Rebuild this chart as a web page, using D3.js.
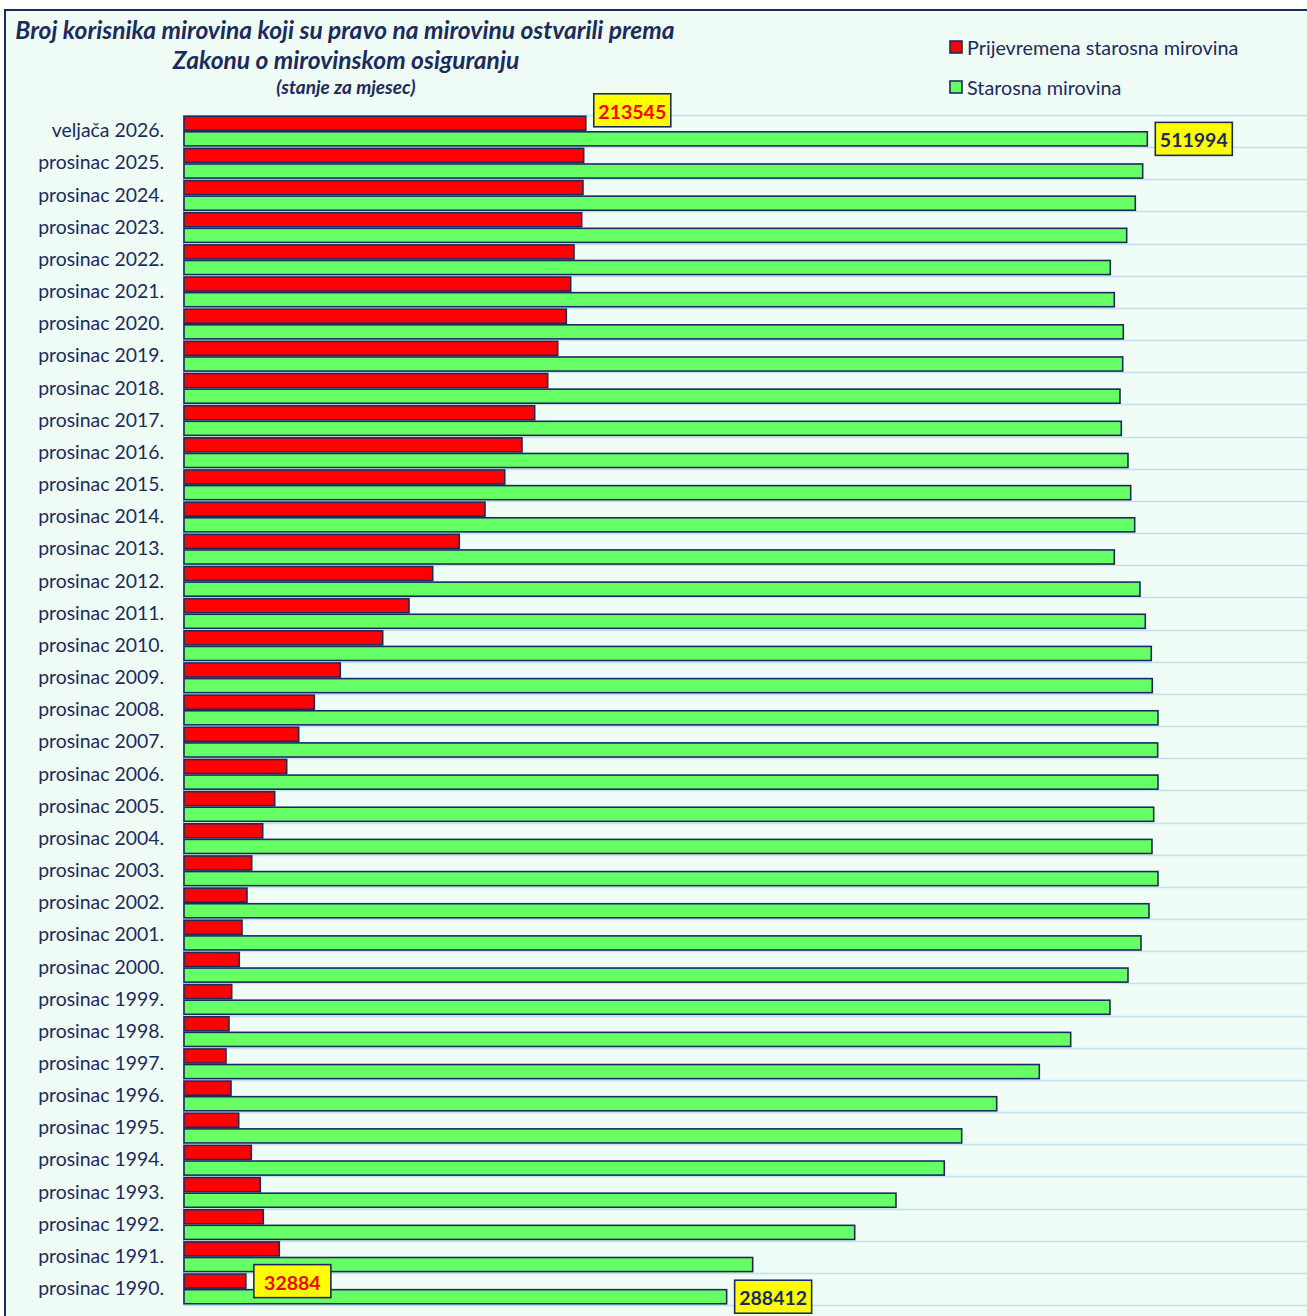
<!DOCTYPE html>
<html>
<head>
<meta charset="utf-8">
<script src="https://cdn.jsdelivr.net/npm/d3@7"></script>
<style>
  html, body { margin: 0; padding: 0; background: #ffffff; }
  svg { display: block; }
</style>
</head>
<body>
<svg id="chart" width="1307" height="1316"></svg>
<script>
// Period labels, top to bottom
const categories = [
  "veljača 2026.", "prosinac 2025.", "prosinac 2024.", "prosinac 2023.", "prosinac 2022.",
  "prosinac 2021.", "prosinac 2020.", "prosinac 2019.", "prosinac 2018.", "prosinac 2017.",
  "prosinac 2016.", "prosinac 2015.", "prosinac 2014.", "prosinac 2013.", "prosinac 2012.",
  "prosinac 2011.", "prosinac 2010.", "prosinac 2009.", "prosinac 2008.", "prosinac 2007.",
  "prosinac 2006.", "prosinac 2005.", "prosinac 2004.", "prosinac 2003.", "prosinac 2002.",
  "prosinac 2001.", "prosinac 2000.", "prosinac 1999.", "prosinac 1998.", "prosinac 1997.",
  "prosinac 1996.", "prosinac 1995.", "prosinac 1994.", "prosinac 1993.", "prosinac 1992.",
  "prosinac 1991.", "prosinac 1990."
];

// Prijevremena starosna mirovina (early old-age pension)
const earlyPension = [
  213545, 212430, 212060, 211370, 207280,
  205530, 203190, 198620, 193300, 186390,
  179640, 170450, 159980, 146320, 132180,
  119590, 105610, 83070, 69250, 60960,
  54580, 48210, 41830, 35980, 33480,
  30830, 29390, 25350, 23920, 22320,
  24980, 29070, 35770, 40550, 42150,
  50650, 32884
];

// Starosna mirovina (old-age pension)
const oldAgePension = [
  511994, 509540, 505610, 501040, 492320,
  494450, 499230, 498910, 497480, 498170,
  501730, 503160, 505290, 494450, 508110,
  510920, 514110, 514640, 517670, 517510,
  517670, 515390, 514480, 517670, 512890,
  508640, 501730, 492160, 471270, 454590,
  431940, 413340, 404090, 378420, 356470,
  302260, 288412
];

const seriesNames = ["Prijevremena starosna mirovina", "Starosna mirovina"];
const xDomainMax = 600000;

// Values shown in callout boxes: [category, series index]
const calloutPoints = [
  ["veljača 2026.", 0],
  ["veljača 2026.", 1],
  ["prosinac 1990.", 0],
  ["prosinac 1990.", 1]
];

const titleLines = [
  "Broj korisnika mirovina koji su pravo na mirovinu ostvarili prema",
  "Zakonu o mirovinskom osiguranju"
];
const subtitle = "(stanje za mjesec)";

// ---- styling ----
const NAVY = "#1c2b5e";
const FILLS = ["#ff0000", "#66ff66"];
const GRID = "#c4e2ec";
const BG = "#effdf6";
const FONT = "Lato, 'Open Sans', sans-serif";

const svg = d3.select("#chart");
const W = 1307, H = 1316;

const rows = categories.map((c, i) => ({
  cat: c,
  values: [earlyPension[i], oldAgePension[i]]
}));

// chart area background and frame
svg.append("rect")
  .attr("x", 5).attr("y", 10)
  .attr("width", W + 20).attr("height", H + 20)
  .attr("fill", BG)
  .attr("stroke", NAVY).attr("stroke-width", 2);

const plotLeft = 184, plotTop = 115, plotBottom = 1305;

const x = d3.scaleLinear()
  .domain([0, xDomainMax])
  .range([plotLeft, plotLeft + (1147.3 - plotLeft) * xDomainMax / 511994]);

const y = d3.scaleBand()
  .domain(categories)
  .range([plotTop, plotBottom])
  .paddingInner(0.03)
  .paddingOuter(0.015);

const ySub = d3.scaleBand()
  .domain([0, 1])
  .range([0, y.bandwidth()]);

// horizontal gridlines at category boundaries
const step = y.step();
const gridYs = d3.range(categories.length + 1).map(i => plotTop + i * step);
svg.append("g")
  .selectAll("line")
  .data(gridYs)
  .join("line")
  .attr("x1", plotLeft).attr("x2", W)
  .attr("y1", d => Math.round(d) + 0.5).attr("y2", d => Math.round(d) + 0.5)
  .attr("stroke", GRID).attr("stroke-width", 1.5);

// left axis line
svg.append("line")
  .attr("x1", plotLeft - 0.5).attr("x2", plotLeft - 0.5)
  .attr("y1", plotTop).attr("y2", plotBottom)
  .attr("stroke", "#b9c9d4").attr("stroke-width", 1);

// bars
const groups = svg.append("g")
  .selectAll("g")
  .data(rows)
  .join("g")
  .attr("transform", d => `translate(0,${y(d.cat)})`);

groups.selectAll("rect")
  .data(d => d.values.map((v, s) => ({ v, s })))
  .join("rect")
  .attr("x", x(0))
  .attr("y", d => ySub(d.s) + 0.75)
  .attr("width", d => x(d.v) - x(0))
  .attr("height", ySub.bandwidth() - 1.5)
  .attr("fill", d => FILLS[d.s])
  .attr("stroke", NAVY)
  .attr("stroke-width", 1.6);

// category axis
const yAxis = d3.axisLeft(y).tickSize(0).tickPadding(20);
const axisG = svg.append("g")
  .attr("transform", `translate(${plotLeft},0)`)
  .call(yAxis);
axisG.select(".domain").remove();
axisG.selectAll("text")
  .attr("fill", NAVY)
  .style("font-family", FONT)
  .style("font-size", "19.4px");

// callout boxes
const callG = svg.append("g");
calloutPoints.forEach(([cat, s]) => {
  const i = categories.indexOf(cat);
  const v = rows[i].values[s];
  const cy = y(cat) + ySub(s) + ySub.bandwidth() / 2;
  // the top early-pension callout sits slightly raised above its bar
  const lift = (i === 0 && s === 0) ? -13 : 0;
  const g = callG.append("g");
  g.append("rect")
    .attr("x", x(v) + 8)
    .attr("y", cy + lift - 16.5)
    .attr("width", 77)
    .attr("height", 33)
    .attr("fill", "#ffff00")
    .attr("stroke", NAVY)
    .attr("stroke-width", 1.6);
  g.append("text")
    .attr("x", x(v) + 8 + 38.5)
    .attr("y", cy + lift + 1)
    .attr("text-anchor", "middle")
    .attr("dominant-baseline", "central")
    .attr("fill", s === 0 ? "#ff0000" : NAVY)
    .style("font-family", FONT)
    .style("font-weight", "bold")
    .style("font-size", "19.5px")
    .text(d3.format("d")(v));
});

// title
const titleG = svg.append("g")
  .attr("fill", NAVY)
  .style("font-family", FONT)
  .style("font-weight", "bold")
  .style("font-style", "italic");
titleG.append("text")
  .attr("x", 345).attr("y", 39)
  .attr("text-anchor", "middle")
  .style("font-size", "24.6px")
  .text(titleLines[0]);
titleG.append("text")
  .attr("x", 346).attr("y", 69)
  .attr("text-anchor", "middle")
  .style("font-size", "24.6px")
  .text(titleLines[1]);
titleG.append("text")
  .attr("x", 346).attr("y", 94)
  .attr("text-anchor", "middle")
  .style("font-size", "19px")
  .text(subtitle);

// legend
const legend = svg.append("g")
  .selectAll("g")
  .data(seriesNames)
  .join("g")
  .attr("transform", (d, i) => `translate(950,${41 + i * 40})`);
legend.append("rect")
  .attr("width", 12).attr("height", 12)
  .attr("fill", (d, i) => FILLS[i])
  .attr("stroke", NAVY).attr("stroke-width", 1.6);
legend.append("text")
  .attr("x", 17).attr("y", 6)
  .attr("dominant-baseline", "central")
  .attr("fill", NAVY)
  .style("font-family", FONT)
  .style("font-size", "19.8px")
  .text(d => d);
</script>
</body>
</html>
